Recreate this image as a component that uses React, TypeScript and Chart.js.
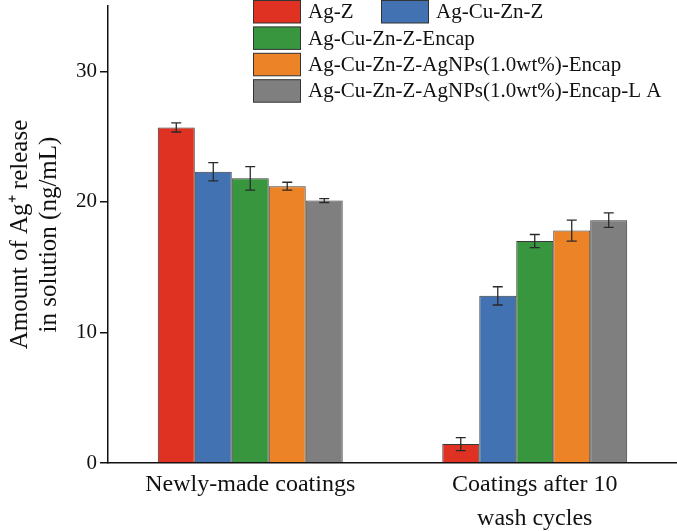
import React, { useEffect, useRef } from "react";
import { Chart, registerables } from "chart.js";

Chart.register(...registerables);

const categories: (string | string[])[] = ["Newly-made coatings", ["Coatings after 10", "wash cycles"]];
const seriesNames = [
  "Ag-Z",
  "Ag-Cu-Zn-Z",
  "Ag-Cu-Zn-Z-Encap",
  "Ag-Cu-Zn-Z-AgNPs(1.0wt%)-Encap",
  "Ag-Cu-Zn-Z-AgNPs(1.0wt%)-Encap-L A",
];
const seriesColors = ["#DF3223", "#4372B2", "#37963E", "#EC8427", "#7F7F7F"];
const agZ = [25.7, 1.45];
const agCuZnZ = [22.3, 12.8];
const agCuZnZEncap = [21.8, 17.0];
const agNPsEncap = [21.2, 17.8];
const agNPsEncapLA = [20.1, 18.6];
const agZErr = [0.35, 0.5];
const agCuZnZErr = [0.7, 0.7];
const agCuZnZEncapErr = [0.9, 0.5];
const agNPsEncapErr = [0.3, 0.8];
const agNPsEncapLAErr = [0.15, 0.55];
const yTicks = [0, 10, 20, 30];

const seriesValues = [agZ, agCuZnZ, agCuZnZEncap, agNPsEncap, agNPsEncapLA];
const seriesErrors = [agZErr, agCuZnZErr, agCuZnZEncapErr, agNPsEncapErr, agNPsEncapLAErr];

const SERIF = "'Liberation Serif', 'Times New Roman', serif";

const errorBarPlugin = {
  id: "errorBars",
  afterDatasetsDraw(chart: any) {
    const ctx = chart.ctx;
    const yScale = chart.scales.y;
    ctx.save();
    ctx.strokeStyle = "#2a2a2a";
    ctx.lineWidth = 1.3;
    chart.data.datasets.forEach((ds: any, di: number) => {
      const meta = chart.getDatasetMeta(di);
      meta.data.forEach((el: any, i: number) => {
        const v = ds.data[i];
        const e = seriesErrors[di][i];
        const x = el.x;
        const yt = yScale.getPixelForValue(v + e);
        const yb = yScale.getPixelForValue(v - e);
        const cap = 5;
        ctx.beginPath();
        ctx.moveTo(x, yt);
        ctx.lineTo(x, yb);
        ctx.moveTo(x - cap, yt);
        ctx.lineTo(x + cap, yt);
        ctx.moveTo(x - cap, yb);
        ctx.lineTo(x + cap, yb);
        ctx.stroke();
      });
    });
    ctx.restore();
  },
};

const legendPlugin = {
  id: "customLegend",
  afterDraw(chart: any) {
    const ctx = chart.ctx;
    ctx.save();
    const boxW = 48;
    const boxH = 22.5;
    const rowStep = 26.4;
    const positions = [
      { x: 253, row: 0 },
      { x: 381, row: 0 },
      { x: 253, row: 1 },
      { x: 253, row: 2 },
      { x: 253, row: 3 },
    ];
    ctx.font = `21px ${SERIF}`;
    ctx.textBaseline = "middle";
    ctx.textAlign = "left";
    positions.forEach((p, i) => {
      const y = 0.5 + p.row * rowStep;
      ctx.fillStyle = seriesColors[i];
      ctx.fillRect(p.x, y, boxW, boxH);
      ctx.strokeStyle = "#333";
      ctx.lineWidth = 1;
      ctx.strokeRect(p.x + 0.5, y, boxW - 1, boxH);
      ctx.fillStyle = "#111";
      ctx.fillText(seriesNames[i], p.x + boxW + 7, y + boxH / 2 + 1);
    });
    ctx.restore();
  },
};

export default function App() {
  const ref = useRef<HTMLCanvasElement | null>(null);
  useEffect(() => {
    if (!ref.current) return;
    const chart = new Chart(ref.current, {
      type: "bar",
      data: {
        labels: categories as any,
        datasets: seriesNames.map((name, i) => ({
          label: name,
          data: seriesValues[i],
          backgroundColor: seriesColors[i],
          borderColor: "#3a3a3a",
          borderWidth: 1,
          categoryPercentage: 0.65,
          barPercentage: 1.0,
        })),
      },
      options: {
        animation: false,
        responsive: true,
        maintainAspectRatio: false,
        layout: { padding: { top: 6, right: 0, left: 0, bottom: 0 } },
        plugins: {
          legend: { display: false },
          tooltip: { enabled: false },
          title: { display: false },
        },
        scales: {
          x: {
            grid: { display: true, drawOnChartArea: false, drawTicks: false, color: "rgba(0,0,0,0)" },
            border: { display: true, color: "#111", width: 1.5 },
            ticks: {
              color: "#111",
              font: { family: SERIF, size: 24, lineHeight: 1.4 },
              padding: 5,
              maxRotation: 0,
              autoSkip: false,
            },
            afterFit: (scale: any) => {
              scale.height = 68;
              scale.paddingLeft = 0;
              scale.paddingRight = 0;
            },
          },
          y: {
            min: 0,
            max: 35,
            grid: { display: true, drawOnChartArea: false, drawTicks: true, tickLength: 8, color: "#111", lineWidth: 1.5 },
            border: { display: true, color: "#111", width: 1.5 },
            afterBuildTicks: (scale: any) => {
              scale.ticks = yTicks.map((v) => ({ value: v }));
            },
            ticks: {
              color: "#111",
              font: { family: SERIF, size: 21 },
              padding: 3,
            },
            title: {
              display: true,
              text: ["Amount of Ag\u207A release", "in solution (ng/mL)"],
              color: "#111",
              font: { family: SERIF, size: 25, lineHeight: 1.15 },
              padding: { top: 6, bottom: 0 },
            },
            afterFit: (scale: any) => {
              scale.width = 108;
              scale.paddingTop = 0;
              scale.paddingBottom = 0;
            },
          },
        },
      },
      plugins: [errorBarPlugin, legendPlugin],
    });
    return () => chart.destroy();
  }, []);
  return (
    <div style={{ position: "fixed", left: 0, top: 0, width: 677, height: 531, background: "#fff" }}>
      <canvas ref={ref} />
    </div>
  );
}
